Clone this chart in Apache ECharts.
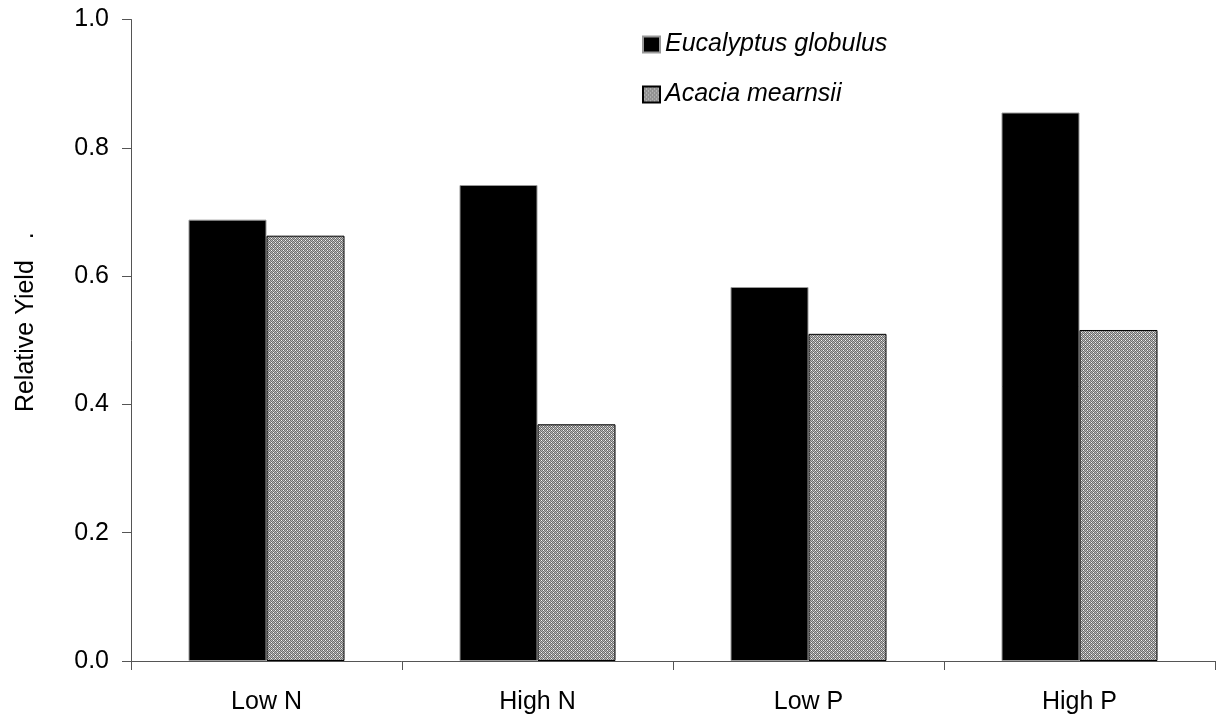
<!DOCTYPE html>
<html>
<head>
<meta charset="utf-8">
<script src="https://cdn.jsdelivr.net/npm/echarts@6/dist/echarts.min.js"></script>
<style>
html,body{margin:0;padding:0;background:#fff;}
#main{width:1218px;height:719px;}
</style>
</head>
<body>
<div id="main"></div>
<script>
var categories = ['Low N', 'High N', 'Low P', 'High P'];
var seriesNames = ['Eucalyptus globulus', 'Acacia mearnsii'];
var eucalyptus = [0.688, 0.742, 0.583, 0.855];
var acacia = [0.663, 0.369, 0.510, 0.516];
var yTicks = { min: 0, max: 1.0, interval: 0.2 };

function makePattern() {
  var c = document.createElement('canvas');
  c.width = 4; c.height = 4;
  var ctx = c.getContext('2d');
  for (var y = 0; y < 4; y++) {
    for (var x = 0; x < 4; x++) {
      ctx.fillStyle = ((x + y) % 2 === 0) ? '#6c6c6c' : '#b8b8b8';
      ctx.fillRect(x, y, 1, 1);
    }
  }
  ctx.fillStyle = '#f4f4f4';
  ctx.fillRect(1, 0, 1, 1);
  ctx.fillRect(3, 2, 1, 1);
  return c;
}
var pattern = { image: makePattern(), repeat: 'repeat' };

var chart = echarts.init(document.getElementById('main'));
chart.setOption({
  animation: false,
  backgroundColor: '#fff',
  grid: { left: 131, right: 3, top: 19.5, bottom: 58, containLabel: false },
  legend: {
    orient: 'vertical',
    left: 637,
    top: 27,
    itemWidth: 17,
    itemHeight: 16,
    itemGap: 25,
    itemTextGap: 9,
    icon: 'rect',
    textStyle: { fontFamily: 'Liberation Sans', fontSize: 25, fontStyle: 'italic', color: '#000', lineHeight: 24 },
    data: seriesNames
  },
  xAxis: {
    type: 'category',
    data: categories,
    axisLine: { lineStyle: { color: '#555', width: 1 } },
    axisTick: { show: true, length: 9, lineStyle: { color: '#555' } },
    axisLabel: { fontFamily: 'Liberation Sans', fontSize: 25, color: '#000', margin: 29 }
  },
  yAxis: {
    type: 'value',
    min: yTicks.min,
    max: yTicks.max,
    interval: yTicks.interval,
    name: 'Relative Yield   .',
    nameLocation: 'middle',
    nameGap: 92,
    nameTextStyle: { fontFamily: 'Liberation Sans', fontSize: 25, color: '#000', padding: [0, 0, 0, 36] },
    splitLine: { show: false },
    axisLine: { show: true, lineStyle: { color: '#555', width: 1 } },
    axisTick: { show: true, length: 9, lineStyle: { color: '#555' } },
    axisLabel: {
      fontFamily: 'Liberation Sans', fontSize: 25, color: '#000', margin: 22,
      formatter: function (v) { return v.toFixed(1); }
    }
  },
  series: [
    {
      name: seriesNames[0],
      type: 'bar',
      data: eucalyptus,
      barWidth: 78,
      barGap: '0%',
      itemStyle: { color: '#000', borderColor: '#999', borderWidth: 1 }
    },
    {
      name: seriesNames[1],
      type: 'bar',
      data: acacia,
      barWidth: 78,
      barGap: '0%',
      itemStyle: { color: pattern, borderColor: '#000', borderWidth: 1 }
    }
  ]
});
</script>
</body>
</html>
